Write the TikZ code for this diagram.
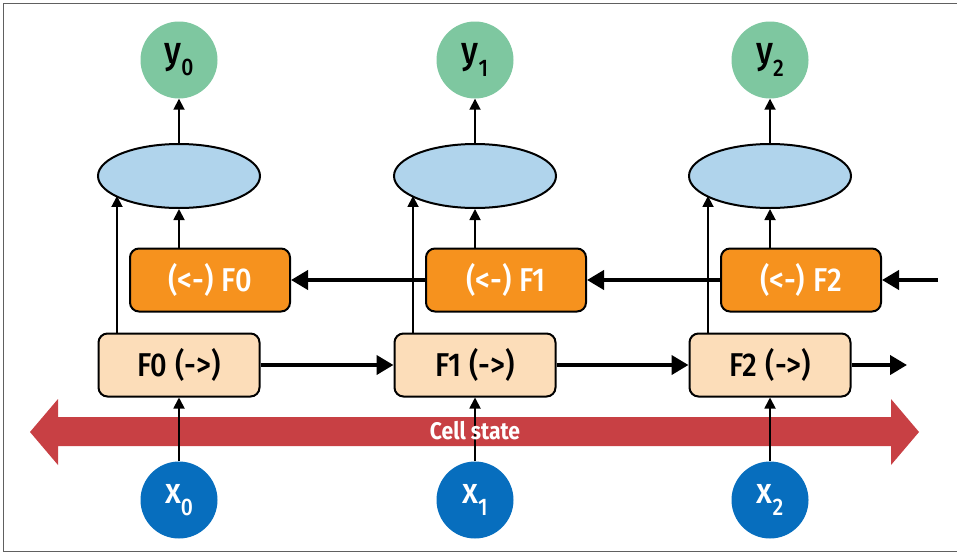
\documentclass[tikz,border=0pt]{standalone}
\usepackage{fontspec}
\setmainfont{Fira Sans}[FakeStretch=0.88]
\newfontfamily\medfont{Fira Sans Medium}[FakeStretch=0.88]
\usetikzlibrary{shapes.geometric,arrows.meta,calc}
\definecolor{ygreen}{RGB}{126,199,160}
\definecolor{xblue}{RGB}{7,110,190}
\definecolor{ellblue}{RGB}{176,212,236}
\definecolor{borange}{RGB}{246,146,30}
\definecolor{fpeach}{RGB}{252,221,185}
\definecolor{cellred}{RGB}{200,64,68}
\tikzset{
  ynode/.style={circle,fill=ygreen,minimum size=77pt,inner sep=0pt,font=\medfont\fontsize{38}{40}\selectfont},
  xnode/.style={circle,fill=xblue,minimum size=77pt,inner sep=0pt,text=white,font=\medfont\fontsize{36}{40}\selectfont},
  ellnode/.style={ellipse,draw=black,line width=2pt,fill=ellblue,minimum width=162pt,minimum height=64pt,inner sep=0pt},
  fwdbox/.style={rectangle,rounded corners=9pt,draw=black,line width=2pt,fill=fpeach,minimum width=161pt,minimum height=63pt,inner sep=0pt,font=\medfont\fontsize{33}{36}\selectfont},
  bwdbox/.style={rectangle,rounded corners=9pt,draw=black,line width=2pt,fill=borange,text=white,minimum width=160pt,minimum height=63pt,inner sep=0pt,font=\medfont\fontsize{33}{36}\selectfont},
  thinarrow/.style={line width=1.8pt,-{Triangle[length=11pt,width=11pt]}},
  thickarrow/.style={line width=4pt,-{Triangle[length=17pt,width=19pt]}},
}
\newcommand{\subs}[1]{\raisebox{-0.32em}{\fontsize{24}{26}\selectfont #1}}
\begin{document}
\begin{tikzpicture}[x=1pt,y=-1pt]
\useasboundingbox (0,0) rectangle (957,554);
\draw[gray!75!black,line width=1.5pt] (957,3.5) -- (3.5,3.5) -- (3.5,551.5) -- (957,551.5);
% cell state band
\fill[cellred] (30,432) -- (58,399) -- (58,417) -- (891,417) -- (891,399) -- (919,432) -- (891,465) -- (891,446) -- (58,446) -- (58,465) -- cycle;
\foreach \i/\c in {0/179,1/475,2/770}{
  \node[ynode] (y\i) at (\c,60) {y\subs{\i}};
  \node[ellnode] (e\i) at (\c,176) {};
  \node[bwdbox] (b\i) at (\c+31,280) {(<-)\hspace{8pt}F\i};
  \node[fwdbox] (f\i) at (\c,365) {F\i\hspace{8pt}(->)};
  \node[xnode] (x\i) at (\c,500) {x\subs{\i}};
  \coordinate (a\i) at ($(f\i.north)+(-62,0)$);
  \draw[thinarrow] (e\i.north) -- (y\i.south);
  \draw[thinarrow] (b\i.north -| e\i.south) -- (e\i.south);
  \draw[thinarrow] (a\i) -- (a\i |- e\i.197);
  \draw[thinarrow] (x\i.north) -- (f\i.south);
}
\node[text=white,font=\fontsize{24}{26}\selectfont\bfseries] (cs) at (475,431) {Cell state};
\coordinate (fend) at (907,365);
\coordinate (bstart) at (938,280);
\draw[thickarrow] (f0.east) -- (f1.west);
\draw[thickarrow] (f1.east) -- (f2.west);
\draw[thickarrow] (f2.east) -- (fend);
\draw[thickarrow] (bstart) -- (b2.east);
\draw[thickarrow] (b2.west) -- (b1.east);
\draw[thickarrow] (b1.west) -- (b0.east);
\end{tikzpicture}
\end{document}
